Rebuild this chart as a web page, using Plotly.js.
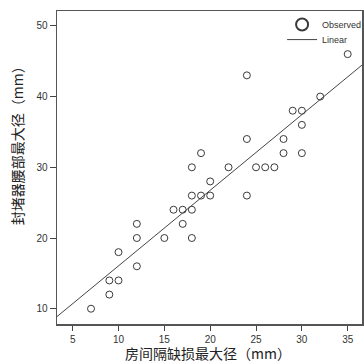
<!DOCTYPE html>
<html><head><meta charset="utf-8">
<script src="https://cdn.plot.ly/plotly-3.0.1.min.js"></script>
<style>html,body{margin:0;padding:0;background:#fff}#chart{width:364px;height:362px}</style>
</head><body><div id="chart"></div>
<script>
const defectSize = [7,9,9,10,10,12,12,12,15,16,17,17,18,18,18,19,20,20,18,19,22,24,24,24,25,26,27,28,28,30,30,29,30,32,35];
const waistSize  = [10,12,14,14,18,16,20,22,20,24,24,22,24,20,26,26,26,28,30,32,30,26,34,43,30,30,30,32,34,32,36,38,38,40,46];
const xTicks = [5,10,15,20,25,30,35];
const yTicks = [10,20,30,40,50];
const xRange = [3.29, 36.56];
const yRange = [7.84, 52.1];
const xTitle = '房间隔缺损最大径（mm）';
const yTitle = '封堵器腰部最大径（mm）';

// least-squares linear fit computed from the data
const n = defectSize.length;
const mx = defectSize.reduce((a,b)=>a+b,0)/n;
const my = waistSize.reduce((a,b)=>a+b,0)/n;
let sxy=0, sxx=0;
for(let i=0;i<n;i++){sxy+=(defectSize[i]-mx)*(waistSize[i]-my);sxx+=(defectSize[i]-mx)**2;}
const slope = sxy/sxx, icpt = my - slope*mx;
const fitX = [xRange[0], xRange[1]];
const fitY = fitX.map(v=>icpt+slope*v);

const tickFont = {family:'"Liberation Sans", Arial, sans-serif', size:10, color:'#333'};
const titleFont = {family:'"Noto Sans CJK SC", sans-serif', size:14, color:'#222'};
const legFont = {family:'"Liberation Sans", Arial, sans-serif', size:9, color:'#333'};

const traces = [
  {x:defectSize, y:waistSize, type:'scatter', mode:'markers', name:'Observed', legend:'legend',
   marker:{symbol:'circle-open', size:7, color:'#3a3a3a', line:{width:1, color:'#3a3a3a'}}, cliponaxis:false},
  {x:fitX, y:fitY, type:'scatter', mode:'lines', name:'Linear', legend:'legend2',
   line:{color:'#444', width:1}}
];
const legBase = {xanchor:'left', yanchor:'top', bgcolor:'rgba(0,0,0,0)', font:legFont, itemwidth:30, borderwidth:0};
const layout = {
  width:364, height:362,
  margin:{l:57, r:2, t:11, b:38, autoexpand:false},
  paper_bgcolor:'#fff', plot_bgcolor:'#fff',
  showlegend:true,
  legend:Object.assign({x:0.738, y:1.003, itemsizing:'constant'}, legBase),
  legend2:Object.assign({x:0.738, y:0.955, itemsizing:'trace'}, legBase),
  xaxis:{range:xRange, tickvals:xTicks, ticks:'outside', ticklen:5, tickcolor:'#444', tickwidth:1,
         showline:true, linecolor:'#555', linewidth:1.5, mirror:true, showgrid:false, zeroline:false,
         tickfont:tickFont},
  yaxis:{range:yRange, tickvals:yTicks, ticks:'outside', ticklen:6, tickcolor:'#444', tickwidth:1,
         showline:true, linecolor:'#555', linewidth:1.5, mirror:true, showgrid:false, zeroline:false,
         tickfont:tickFont},
  annotations:[
    {text:xTitle, xref:'paper', yref:'paper', x:0.495, y:-0.0935, xanchor:'center', yanchor:'middle',
     showarrow:false, font:titleFont},
    {text:yTitle, xref:'paper', yref:'paper', x:-0.131, y:0.581, xanchor:'center', yanchor:'middle',
     textangle:-90, showarrow:false, font:titleFont}
  ]
};
Plotly.newPlot('chart', traces, layout, {staticPlot:true, displayModeBar:false});
</script></body></html>
